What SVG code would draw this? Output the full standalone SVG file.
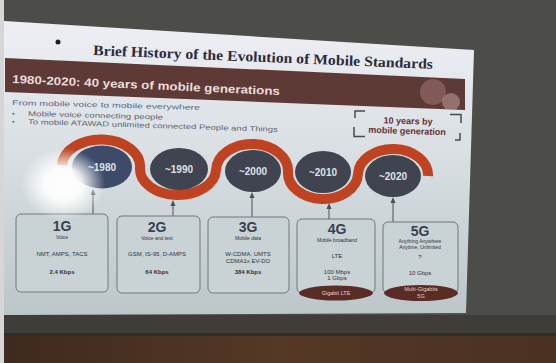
<svg xmlns="http://www.w3.org/2000/svg" width="556" height="363" viewBox="0 0 556 363">
<defs>
<style>
.era{fill:#3f4450}
.eraT{font-family:"Liberation Sans",Arial,sans-serif;font-weight:bold;font-size:10px;fill:#dfe3e8;text-anchor:middle}
.box{fill:#c9d2d5;stroke:#6d787e;stroke-width:1}
.gen{font-family:"Liberation Sans",Arial,sans-serif;font-weight:bold;font-size:14px;fill:#3a4050;text-anchor:middle}
.sub{font-family:"Liberation Sans",Arial,sans-serif;font-size:5px;fill:#2f3440;text-anchor:middle}
.mid{font-family:"Liberation Sans",Arial,sans-serif;font-size:6px;fill:#2f3440;text-anchor:middle}
.rate{font-family:"Liberation Sans",Arial,sans-serif;font-size:6px;font-weight:bold;fill:#2f3440;text-anchor:middle}
.oval{fill:#5a2c26}
.ovT{font-family:"Liberation Sans",Arial,sans-serif;font-size:5.5px;fill:#e6cfca;text-anchor:middle}
.conn{stroke:#4a5058;stroke-width:1;fill:none}
.bul{font-family:"Liberation Sans",Arial,sans-serif;font-size:7px;fill:#5e6370}
.brk{stroke:#4a4a4a;stroke-width:1.5;fill:none}
.brkT{font-family:"Liberation Sans",Arial,sans-serif;font-weight:bold;font-size:9px;fill:#6b2f2c;text-anchor:middle}
</style>
<marker id="arr" markerWidth="6" markerHeight="6" refX="3" refY="3" orient="auto" markerUnits="userSpaceOnUse">
<path d="M0,0.5 L6,3 L0,5.5 Z" fill="#4a5058"/>
</marker>
<linearGradient id="slideG" x1="0" y1="0" x2="0" y2="1">
<stop offset="0" stop-color="#eeeff4"/>
<stop offset="0.45" stop-color="#d9dfe3"/>
<stop offset="1" stop-color="#bcc6c9"/>
</linearGradient>
<linearGradient id="woodG" x1="0" y1="0" x2="1" y2="0">
<stop offset="0" stop-color="#3e2a1e"/>
<stop offset="0.5" stop-color="#553826"/>
<stop offset="1" stop-color="#4a3122"/>
</linearGradient>
<radialGradient id="glare" cx="0.5" cy="0.5" r="0.5">
<stop offset="0" stop-color="#ffffff" stop-opacity="1"/>
<stop offset="0.45" stop-color="#ffffff" stop-opacity="0.9"/>
<stop offset="1" stop-color="#ffffff" stop-opacity="0"/>
</radialGradient>
<clipPath id="banClip"><polygon points="5,58 465,79 465,110 5,92"/></clipPath>
</defs>

<!-- room background -->
<rect x="0" y="0" width="556" height="363" fill="#4c4c48"/>
<rect x="0" y="315" width="556" height="20" fill="#3f3d39"/>
<rect x="0" y="333" width="556" height="3" fill="#2f2c28"/>
<rect x="0" y="336" width="556" height="27" fill="url(#woodG)"/>
<rect x="0" y="0" width="4" height="363" fill="#d6d6d6"/>

<!-- slide -->
<polygon points="4,21 474,50 466,313 4,315" fill="url(#slideG)"/>
<circle cx="58" cy="42" r="2.5" fill="#1e1e22"/>
<text x="93" y="55" transform="rotate(2.35 93 55)" font-family="'Liberation Serif','Times New Roman',serif" font-weight="bold" font-size="14.5" fill="#2b2b3a" textLength="340" lengthAdjust="spacingAndGlyphs">Brief History of the Evolution of Mobile Standards</text>

<!-- banner -->
<polygon points="5,58 465,79 465,110 5,92" fill="#5d3a35"/>
<g clip-path="url(#banClip)">
<circle cx="433" cy="92" r="13" fill="#9a6e6c" opacity="0.6"/>
<circle cx="451" cy="102" r="9" fill="#bf9d9c" opacity="0.55"/>
</g>
<text x="12" y="83" transform="rotate(2.6 12 83)" font-family="'Liberation Sans',Arial,sans-serif" font-weight="bold" font-size="11.5" fill="#ecdcdc" textLength="268" lengthAdjust="spacingAndGlyphs">1980-2020: 40 years of mobile generations</text>

<!-- bullets -->
<text class="bul" x="12" y="105" transform="rotate(1.5 12 105)" textLength="188" lengthAdjust="spacingAndGlyphs" style="fill:#56658a">From mobile voice to  mobile everywhere</text>
<text class="bul" x="12" y="116" transform="rotate(1.5 12 116)">•</text>
<text class="bul" x="28" y="116" transform="rotate(1.5 28 116)" textLength="135" lengthAdjust="spacingAndGlyphs">Mobile voice connecting people</text>
<text class="bul" x="12" y="124" transform="rotate(1.8 12 124)">•</text>
<text class="bul" x="28" y="124" transform="rotate(1.8 28 124)" textLength="250" lengthAdjust="spacingAndGlyphs">To mobile ATAWAD unlimited connected People and Things</text>

<!-- 10 years bracket -->
<g id="note">
<path class="brk" d="M365,111 L355,111 L355,118 M450,114.5 L461,114.5 L461,123 M354,127 L354,136.5 L365,136.5 M460,133 L460,140 L455,140"/>
<text class="brkT" x="408" y="124" transform="rotate(1.7 408 124)">10 years by</text>
<text class="brkT" x="407" y="134" transform="rotate(1.7 407 134)">mobile generation</text>
</g>

<!-- wave -->
<path d="M62,165 A39,27 0 0 1 140,168 A38,26 0 0 0 216,170 A36,27 0 0 1 288,172 A35,26 0 0 0 358,174 A35,26 0 0 1 428,176" fill="none" stroke="#bf4320" stroke-width="10"/>

<!-- connectors -->
<g id="connectors">
<line class="conn" x1="93" y1="214" x2="93" y2="192" marker-end="url(#arr)"/>
<line class="conn" x1="173" y1="216" x2="173" y2="203" marker-end="url(#arr)"/>
<line class="conn" x1="252" y1="217" x2="252" y2="195" marker-end="url(#arr)"/>
<line class="conn" x1="329" y1="219" x2="329" y2="206" marker-end="url(#arr)"/>
<line class="conn" x1="393" y1="222" x2="393" y2="200" marker-end="url(#arr)"/>
</g>

<!-- era nodes -->
<g id="era1980"><ellipse class="era" cx="102" cy="167" rx="30" ry="21.5" style="fill:#3d4b68"/><text class="eraT" x="102" y="171">~1980</text></g>
<g id="era1990"><ellipse class="era" cx="179" cy="169" rx="29" ry="21"/><text class="eraT" x="179" y="173">~1990</text></g>
<g id="era2000"><ellipse class="era" cx="253" cy="171" rx="28" ry="21"/><text class="eraT" x="253" y="175">~2000</text></g>
<g id="era2010"><ellipse class="era" cx="323" cy="172" rx="28" ry="21"/><text class="eraT" x="323" y="176">~2010</text></g>
<g id="era2020"><ellipse class="era" cx="393" cy="176" rx="28" ry="21"/><text class="eraT" x="393" y="180">~2020</text></g>

<!-- generation nodes -->
<g id="gen1G">
<rect class="box" x="16" y="214" width="92" height="78" rx="5"/>
<text class="gen" x="62" y="231">1G</text>
<text class="sub" x="62" y="239">Voice</text>
<text class="mid" x="62" y="256">NMT, AMPS, TACS</text>
<text class="rate" x="62" y="274">2.4 Kbps</text>
</g>
<g id="gen2G">
<rect class="box" x="117" y="216" width="83" height="77" rx="5"/>
<text class="gen" x="157" y="232">2G</text>
<text class="sub" x="157" y="240">Voice and text</text>
<text class="mid" x="157" y="256">GSM, IS-95, D-AMPS</text>
<text class="rate" x="157" y="274">64 Kbps</text>
</g>
<g id="gen3G">
<rect class="box" x="208" y="217" width="81" height="76" rx="5"/>
<text class="gen" x="248" y="232">3G</text>
<text class="sub" x="248" y="240">Mobile data</text>
<text class="mid" x="248" y="256">W-CDMA, UMTS</text>
<text class="mid" x="248" y="263">CDMA1x EV-DO</text>
<text class="rate" x="248" y="274">384 Kbps</text>
</g>
<g id="gen4G">
<rect class="box" x="297" y="219" width="78" height="74" rx="5"/>
<text class="gen" x="337" y="234">4G</text>
<text class="sub" x="337" y="242">Mobile broadband</text>
<text class="mid" x="337" y="258">LTE</text>
<text class="mid" x="337" y="274">100 Mbps</text>
<text class="mid" x="337" y="280">1 Gbps</text>
<ellipse class="oval" cx="336" cy="293" rx="37" ry="7.5"/>
<text class="ovT" x="336" y="295">Gigabit LTE</text>
</g>
<g id="gen5G">
<rect class="box" x="383" y="222" width="75" height="71" rx="5"/>
<text class="gen" x="420" y="236">5G</text>
<text class="sub" x="420" y="243">Anything Anywhere</text>
<text class="sub" x="420" y="249">Anytime, Unlimited</text>
<text class="mid" x="420" y="259">?</text>
<text class="mid" x="420" y="275">10 Gbps</text>
<ellipse class="oval" cx="421" cy="293" rx="37" ry="8"/>
<text class="ovT" x="421" y="291">Multi-Gigabits</text>
<text class="ovT" x="421" y="298">5G</text>
</g>

<!-- projector glare -->
<ellipse cx="63" cy="184" rx="42" ry="36" fill="url(#glare)"/>
</svg>
